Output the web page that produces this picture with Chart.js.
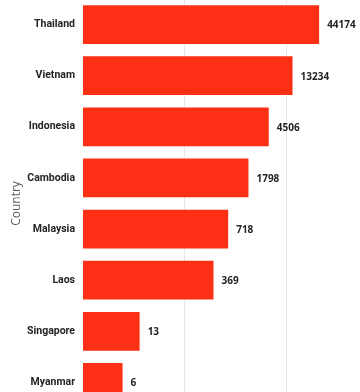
<!DOCTYPE html>
<html>
<head>
<meta charset="utf-8">
<script src="https://cdn.jsdelivr.net/npm/chart.js@4.4.1/dist/chart.umd.min.js"></script>
<style>
  html, body { margin: 0; padding: 0; background: #fff; overflow: hidden; width: 360px; height: 392px; }
  #wrap { position: absolute; left: 0; top: -1px; }
</style>
</head>
<body>
<div id="wrap"><canvas id="chart" width="388" height="409"></canvas></div>
<script>
// Count by country (log axis)
const countries = ['Thailand', 'Vietnam', 'Indonesia', 'Cambodia', 'Malaysia', 'Laos', 'Singapore', 'Myanmar'];
const counts = [44174, 13234, 4506, 1798, 718, 369, 13, 6];
const gridValues = [1, 100, 10000, 1000000];

const barRed = '#fd2f14';
const valueFont = '"Open Sans", "DejaVu Sans", sans-serif';
const categoryFont = 'Roboto, "Open Sans", sans-serif';

// writes the value just past the end of each bar
const valueLabels = {
  id: 'valueLabels',
  afterDatasetsDraw(chart) {
    const ctx = chart.ctx;
    const meta = chart.getDatasetMeta(0);
    ctx.save();
    ctx.font = 'bold 10px ' + valueFont;
    ctx.fillStyle = '#252423';
    ctx.textAlign = 'left';
    ctx.textBaseline = 'middle';
    meta.data.forEach((bar, i) => {
      ctx.fillText(String(counts[i]), bar.x + 8, bar.y + 1);
    });
    ctx.restore();
  }
};

new Chart(document.getElementById('chart').getContext('2d'), {
  type: 'bar',
  data: {
    labels: countries,
    datasets: [{
      data: counts,
      backgroundColor: barRed,
      borderWidth: 0,
      categoryPercentage: 1,
      barPercentage: 0.76
    }]
  },
  options: {
    indexAxis: 'y',
    responsive: false,
    animation: false,
    devicePixelRatio: 1,
    layout: { padding: 0 },
    plugins: { legend: { display: false }, tooltip: { enabled: false } },
    scales: {
      x: {
        type: 'logarithmic',
        min: 1,
        max: 1000000,
        afterBuildTicks: (scale) => { scale.ticks = gridValues.map(v => ({ value: v })); },
        afterFit: (scale) => { scale.height = 0; scale.paddingLeft = 0; scale.paddingRight = 0; },
        ticks: { display: false },
        border: { display: false },
        grid: {
          drawTicks: false,
          color: (c) => c.tick && c.tick.value === 1 ? 'rgba(0,0,0,0)' : '#e8e8e8',
          borderDash: [1, 2],
          lineWidth: 1
        }
      },
      y: {
        afterFit: (scale) => { scale.width = 83; scale.paddingTop = 0; scale.paddingBottom = 0; },
        border: { display: false },
        grid: { display: false, drawTicks: false },
        ticks: {
          padding: 8,
          color: '#252423',
          font: { family: categoryFont, size: 10.5, weight: 'bold' }
        },
        title: {
          display: true,
          text: 'Country',
          color: '#605e5c',
          padding: { top: 9, bottom: 0 },
          font: { family: valueFont, size: 12 }
        }
      }
    }
  },
  plugins: [valueLabels]
});
</script>
</body>
</html>
